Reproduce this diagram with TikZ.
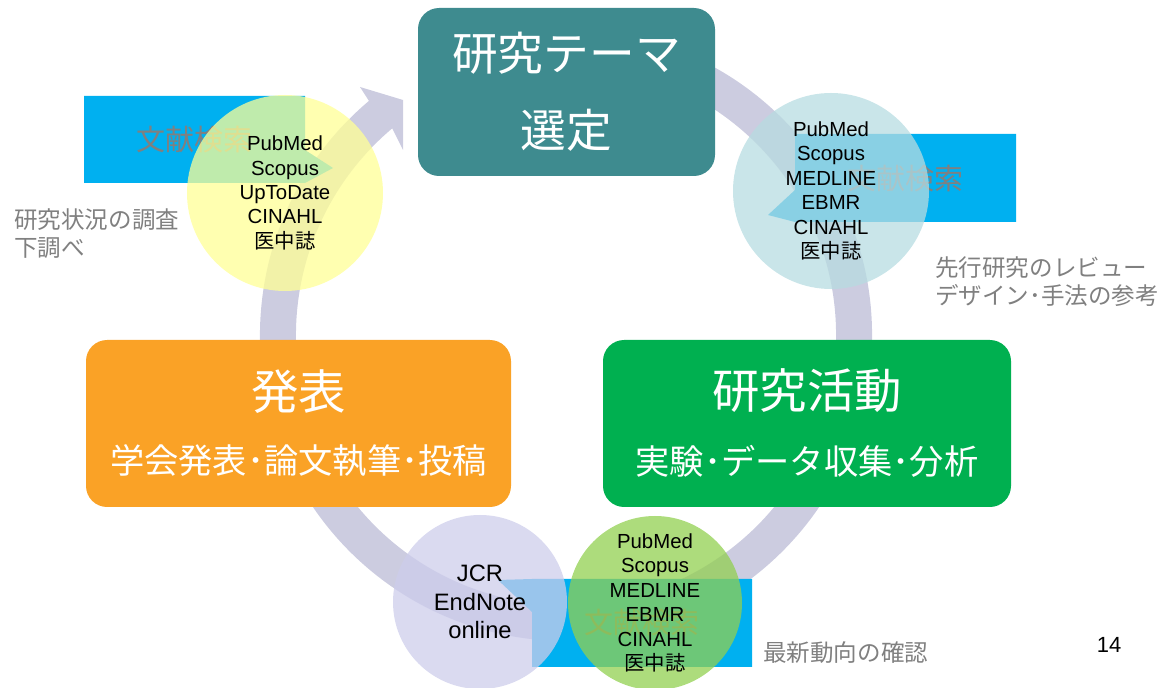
\documentclass[tikz,border=0pt]{standalone}
\usepackage{fontspec}
\setmainfont{Liberation Sans}
\newfontfamily\jp{Noto Sans CJK JP}
\usepackage{xcolor}
\usepackage{tikz}
\usetikzlibrary{positioning}
\usetikzlibrary{shapes.geometric}
\definecolor{themeteal}{RGB}{62,139,143}
\definecolor{presentorange}{RGB}{250,162,38}
\definecolor{activegreen}{RGB}{0,176,80}
\definecolor{calloutcyan}{RGB}{0,176,240}
\definecolor{ringgray}{RGB}{204,204,224}
\definecolor{notegray}{RGB}{128,128,128}
\definecolor{dbyellow}{RGB}{255,255,150}
\definecolor{dbteal}{RGB}{183,220,225}
\definecolor{dblavender}{RGB}{205,205,235}
\definecolor{dbgreen}{RGB}{146,208,80}
\tikzset{
    stagebox/.style = {rectangle, rounded corners=12pt, inner sep=0pt},
    stagetitle/.style = {text=white, font=\jp\fontsize{27}{27}\selectfont},
    stagesub/.style = {text=white, font=\jp\fontsize{19.5}{19.5}\selectfont},
    dbcircle/.style = {circle, inner sep=0pt, align=center, fill opacity=0.75, text opacity=1,
        font=\fontsize{11.6}{13.9}\selectfont},
    searchtext/.style = {text=notegray, font=\jp\fontsize{16.5}{16.5}\selectfont},
    notetext/.style = {text=notegray, align=left, inner sep=0pt, font=\jp\fontsize{13.4}{15.9}\selectfont},
}
\begin{document}
\begin{tikzpicture}[
	x=0.02cm,
	y=-0.02cm,
	ring/.style = {draw=ringgray, line width=36*0.02cm},
]
\useasboundingbox (0,0) rectangle (1160,688);
% cycle arrow
\draw[ring] ([shift={(-80:288)}]566,335) arc[start angle=-80, end angle=230.4, radius=288];
\fill[ringgray] (369,101) -- (360,87) -- (403,100) -- (403,150) -- (392,128) -- cycle;
%
\node[stagebox, fill=themeteal, minimum width=297*0.02cm, minimum height=168*0.02cm,
      align=center, text=white, font=\jp\fontsize{26}{44}\selectfont] at (566.5,92) (theme) {研究テーマ\\選定};
\node[stagebox, fill=presentorange, minimum width=425*0.02cm, minimum height=167*0.02cm] at (298.5,423.5) (present) {};
\node[stagebox, fill=activegreen, minimum width=408*0.02cm, minimum height=167*0.02cm] at (807,423.5) (activity) {};
\node[stagetitle] at (298.5,392) (presenttitle) {発表};
\node[stagesub] at (298.5,461) (presentsub) {学会発表･論文執筆･投稿};
\node[stagetitle] at (807,391) (activitytitle) {研究活動};
\node[stagesub] at (807,461) (activitysub) {実験･データ収集･分析};
%
% callouts
\fill[calloutcyan] (84,96) -- (305,96) -- (305,150) -- (333,168) -- (305,183) -- (84,183) -- cycle;
\fill[calloutcyan] (795,134) -- (1016,134) -- (1016,222) -- (795,222) -- (768,215) -- (795,190) -- cycle;
\fill[calloutcyan] (532,579) -- (752,579) -- (752,667) -- (532,667) -- (532,612) -- (498,580) -- cycle;
\node[searchtext] at (194.5,139.5) (searchA) {文献検索};
\node[searchtext] at (905.5,179) (searchB) {文献検索};
\node[searchtext] at (642,623) (searchC) {文献検索};
%
% databases
\node[dbcircle, fill=dbyellow, minimum size=196*0.02cm] at (285,193) (dbA)
    {PubMed\\Scopus\\UpToDate\\CINAHL\\{\jp 医中誌}};
\node[dbcircle, fill=dbteal, minimum size=196*0.02cm] at (831,191) (dbB)
    {PubMed\\Scopus\\MEDLINE\\EBMR\\CINAHL\\{\jp 医中誌}};
\node[dbcircle, fill=dblavender, minimum size=174*0.02cm, font=\fontsize{13.5}{16.4}\selectfont] at (480,602) (toolC)
    {JCR\\EndNote\\online};
\node[dbcircle, fill=dbgreen, minimum size=174*0.02cm] at (655,603) (dbC)
    {PubMed\\Scopus\\MEDLINE\\EBMR\\CINAHL\\{\jp 医中誌}};
%
% notes
\node[notetext, anchor=west] at (14,234) (noteA) {研究状況の調査\\下調べ};
\node[notetext, anchor=west] at (935,282) (noteB) {先行研究のレビュー\\デザイン･手法の参考};
\node[notetext, anchor=west] at (763,653) (noteC) {最新動向の確認};
\node[font=\fontsize{12.5}{12.5}\selectfont] at (1109,645) (pagenum) {14};
\end{tikzpicture}
\end{document}
